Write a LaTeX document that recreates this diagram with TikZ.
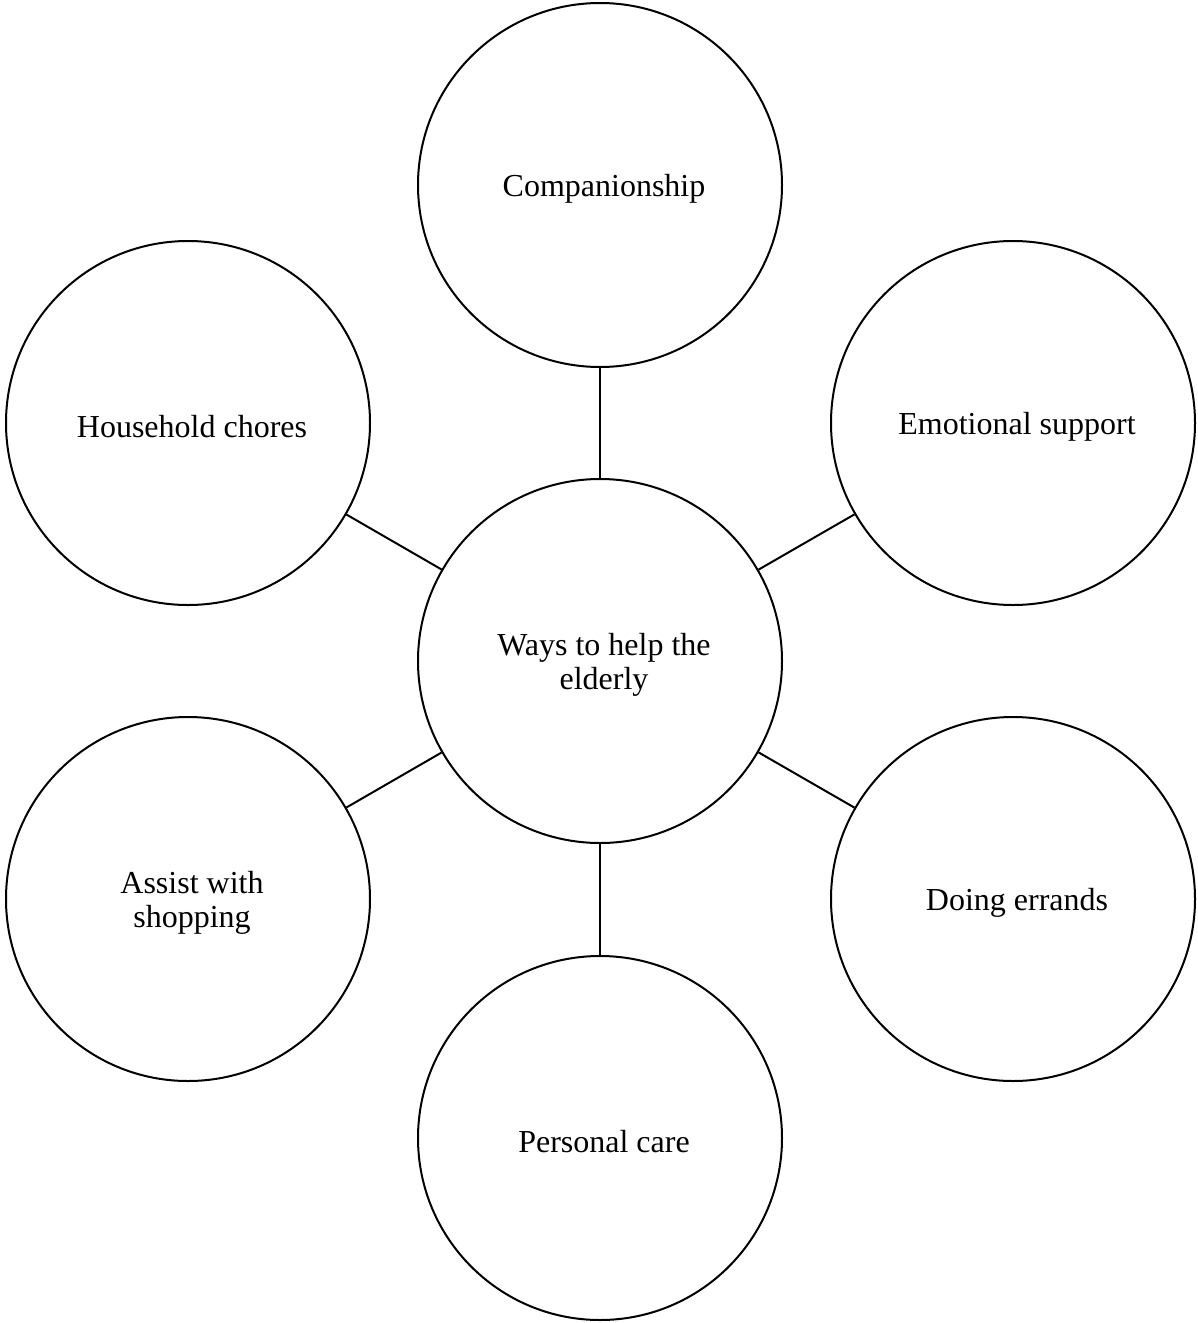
\documentclass[tikz,border=0pt]{standalone}
\usepackage{fontspec}
\setmainfont{Liberation Serif}
\begin{document}
\begin{tikzpicture}[x=1pt,y=1pt,
  bubble/.style={circle,draw=black,line width=2pt,minimum size=364pt,inner sep=0pt},
  lbl/.style={align=center,inner sep=0pt,xshift=4pt,yshift=-4pt,
    font=\fontsize{32}{34}\selectfont},
  link/.style={line width=2pt,draw=black}]
\useasboundingbox (0,0) rectangle (1198,-1323);
\node[bubble,label={[lbl]center:{Ways to help the\\elderly}}] (c) at (600,-661) {};
\node[bubble,label={[lbl]center:Companionship}] (t) at (600,-185) {};
\node[bubble,label={[lbl]center:Household chores}] (hl) at (188,-423) {};
\node[bubble,label={[lbl]center:Emotional support}] (hr) at (1013,-423) {};
\node[bubble,label={[lbl]center:{Assist with\\shopping}}] (bl) at (188,-899) {};
\node[bubble,label={[lbl]center:Doing errands}] (br) at (1013,-899) {};
\node[bubble,label={[lbl]center:Personal care}] (b) at (600,-1138) {};
\draw[link] (c) -- (t);
\draw[link] (c) -- (hl);
\draw[link] (c) -- (hr);
\draw[link] (c) -- (bl);
\draw[link] (c) -- (br);
\draw[link] (c) -- (b);
\end{tikzpicture}
\end{document}
